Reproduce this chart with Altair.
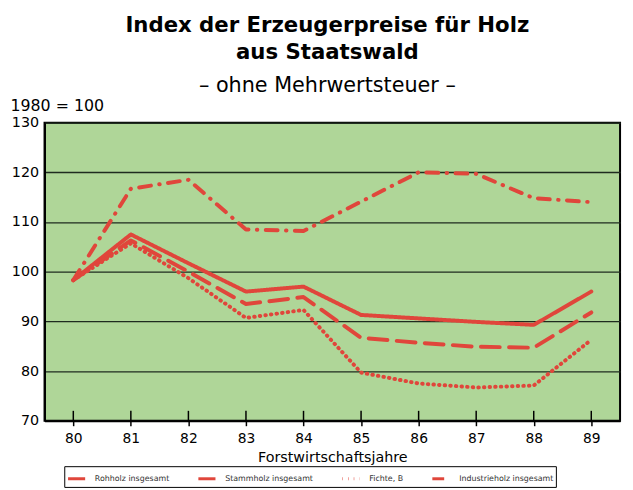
import altair as alt
import pandas as pd

# ---- data ----
years = [80, 81, 82, 83, 84, 85, 86, 87, 88, 89]
rohholz = [98.3, 107.5, 101.7, 96.0, 97.0, 91.3, 90.6, 89.9, 89.3, 96.0]
stammholz = [98.3, 106.3, 100.0, 93.5, 94.9, 86.7, 85.7, 84.9, 84.7, 91.8]
fichte_b = [98.3, 105.7, 98.7, 90.7, 92.3, 79.7, 77.5, 76.7, 77.1, 86.3]
industrieholz = [98.3, 116.7, 118.5, 108.5, 108.2, 114.1, 120.0, 119.7, 114.8, 114.0]

series_names = ["Rohholz insgesamt", "Stammholz insgesamt", "Fichte, B", "Industrieholz insgesamt"]
series_values = [rohholz, stammholz, fichte_b, industrieholz]
y_ticks = [70, 80, 90, 100, 110, 120, 130]

# ---- styles ----
RED = "#e0463b"
GREEN = "#afd698"
FONT = "DejaVu Sans"
dashes = [[1, 0], [19, 9.5], [0.5, 5.2], [12, 8.5, 0.5, 8.5]]

rows = []
for name, vals in zip(series_names, series_values):
    for yr, v in zip(years, vals):
        rows.append({"jahr": yr, "index": v, "reihe": name})
df = pd.DataFrame(rows)

x_scale = alt.Scale(domain=[79.5, 89.5], nice=False, zero=False)
y_scale = alt.Scale(domain=[70, 130], nice=False, zero=False)

lines = alt.Chart(df).mark_line(color=RED, strokeWidth=4, strokeCap="round", strokeJoin="round").encode(
    x=alt.X("jahr:Q", scale=x_scale,
            axis=alt.Axis(values=years, format="d", title="Forstwirtschaftsjahre",
                          titleFontSize=14.5, titleFontWeight="normal", titlePadding=5,
                          labelFontSize=14, labelPadding=6, tickSize=5, tickWidth=1.5,
                          tickColor="black", grid=False)),
    y=alt.Y("index:Q", scale=y_scale,
            axis=alt.Axis(values=y_ticks, title="1980 = 100", titleAngle=0, titleAlign="left",
                          titleBaseline="alphabetic", titleX=-35, titleY=-12,
                          titleFontSize=16, titleFontWeight="normal",
                          labelFontSize=14.5, labelPadding=6, tickSize=0,
                          grid=True, gridColor="#1f2b1f", gridWidth=1.3)),
    strokeDash=alt.StrokeDash(
        "reihe:N",
        scale=alt.Scale(domain=series_names, range=dashes),
        legend=alt.Legend(orient="none", legendX=20, legendY=348, direction="horizontal",
                          columns=4, title=None, symbolType="stroke", symbolStrokeWidth=3,
                          symbolStrokeColor=RED, symbolSize=300, labelFontSize=8,
                          labelFont=FONT, labelColor="#333333", labelOffset=8,
                          strokeColor="black", fillColor="white", padding=2,
                          columnPadding=22, labelLimit=300),
    ),
)

tick_df = pd.DataFrame({"jahr": years})
inner_ticks = alt.Chart(tick_df).mark_rule(color="black", strokeWidth=1.5).encode(
    x=alt.X("jahr:Q", scale=x_scale),
    y=alt.datum(70),
    y2=alt.datum(72),
)

chart = alt.layer(lines, inner_ticks).properties(
    width=583,
    height=302,
    autosize=alt.AutoSizeParams(type="none"),
    padding={"left": 37, "top": 113, "right": 5, "bottom": 67},
    title=alt.Title(
        ["Index der Erzeugerpreise für Holz", "aus Staatswald"],
        subtitle="– ohne Mehrwertsteuer –",
        font=FONT, fontSize=21.5, fontWeight="bold", lineHeight=27, color="black",
        subtitleFont=FONT, subtitleFontSize=21, subtitleColor="black", subtitlePadding=12,
        anchor="middle", frame="group", offset=2, dx=-5,
    ),
).configure(
    background="white",
).configure_view(
    fill=GREEN, stroke="black", strokeWidth=2,
).configure_axis(
    labelFont=FONT, titleFont=FONT, labelColor="black", titleColor="black",
    domainColor="black", domainWidth=2,
)

chart.save("out.html", embed_options={"renderer": "svg", "actions": False})
